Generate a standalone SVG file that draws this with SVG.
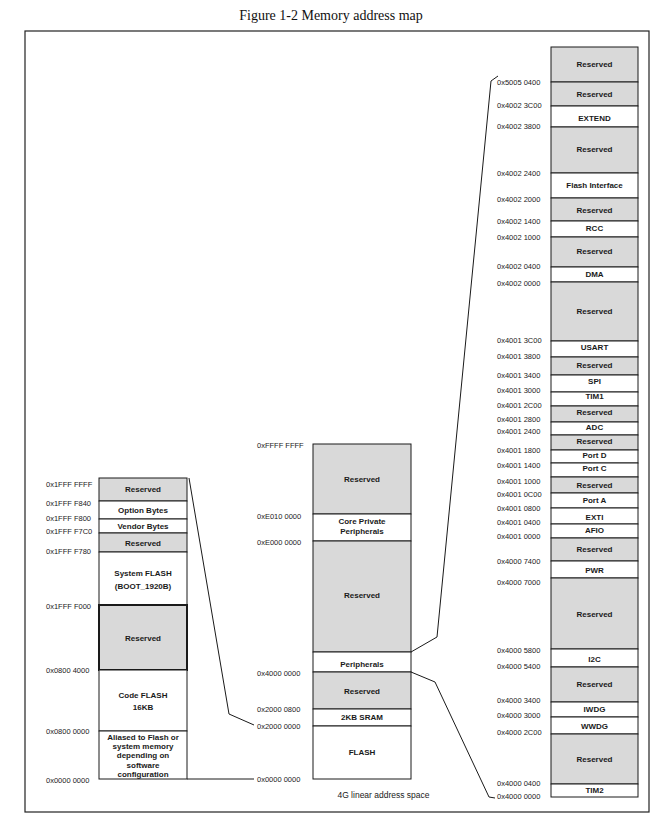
<svg xmlns="http://www.w3.org/2000/svg" width="660" height="836" viewBox="0 0 660 836">
<style>
.bg{fill:#fff}
.frame{fill:none;stroke:#222;stroke-width:1.2}
.g{fill:#d9d9d9;stroke:#1a1a1a;stroke-width:1}
.w{fill:#fff;stroke:#1a1a1a;stroke-width:1}
.thick{stroke-width:2}
.lbl{font-family:"Liberation Sans",Arial,sans-serif;font-size:8px;font-weight:bold;text-anchor:middle;fill:#1a1a1a}
.addr{font-family:"Liberation Sans",Arial,sans-serif;font-size:7.5px;fill:#1a1a1a}
.cap{font-family:"Liberation Sans",Arial,sans-serif;font-size:8.5px;fill:#1a1a1a;text-anchor:middle}
.title{font-family:"Liberation Serif","Times New Roman",serif;font-size:14px;fill:#111;text-anchor:middle}
.conn{fill:none;stroke:#1a1a1a;stroke-width:1}
</style>
<rect class="bg" x="0" y="0" width="660" height="836"/>
<text class="title" x="331" y="20">Figure 1-2 Memory address map</text>
<rect class="frame" x="25" y="31" width="624" height="781"/>

<!-- Left column: system memory detail -->
<g id="left-col">
<g id="l-res1"><rect class="g" x="99" y="478" width="88" height="23"/><text class="lbl" x="143" y="492">Reserved</text></g>
<g id="l-option"><rect class="w" x="99" y="501" width="88" height="18"/><text class="lbl" x="143" y="513">Option Bytes</text></g>
<g id="l-vendor"><rect class="w" x="99" y="519" width="88" height="14"/><text class="lbl" x="143" y="529">Vendor Bytes</text></g>
<g id="l-res2"><rect class="g" x="99" y="533" width="88" height="19"/><text class="lbl" x="143" y="545.5">Reserved</text></g>
<g id="l-sysflash"><rect class="w" x="99" y="552" width="88" height="53"/><text class="lbl" x="143" y="576">System FLASH</text><text class="lbl" x="143" y="589.4">(BOOT_1920B)</text></g>
<g id="l-res3"><rect class="g thick" x="99" y="605" width="88" height="65"/><text class="lbl" x="143" y="640.7">Reserved</text></g>
<g id="l-codeflash"><rect class="w" x="99" y="670" width="88" height="61"/><text class="lbl" x="143" y="697.7">Code FLASH</text><text class="lbl" x="143" y="710">16KB</text></g>
<g id="l-alias"><rect class="w" x="99" y="731" width="88" height="48"/>
<text class="lbl" x="143" y="740">Aliased to Flash or</text>
<text class="lbl" x="143" y="749.4">system memory</text>
<text class="lbl" x="143" y="758.4">depending on</text>
<text class="lbl" x="143" y="767.7">software</text>
<text class="lbl" x="143" y="777">configuration</text></g>
<g id="l-addr">
<text class="addr" x="46" y="486.5">0x1FFF FFFF</text>
<text class="addr" x="46" y="506">0x1FFF F840</text>
<text class="addr" x="46" y="521">0x1FFF F800</text>
<text class="addr" x="46" y="534.4">0x1FFF F7C0</text>
<text class="addr" x="46" y="553.7">0x1FFF F780</text>
<text class="addr" x="46" y="609.4">0x1FFF F000</text>
<text class="addr" x="46" y="673.4">0x0800 4000</text>
<text class="addr" x="46" y="734.4">0x0800 0000</text>
<text class="addr" x="46" y="782.7">0x0000 0000</text>
</g>
</g>

<!-- Middle column: 4G linear address space -->
<g id="mid-col">
<g id="m-res1"><rect class="g" x="313" y="444" width="98" height="70"/><text class="lbl" x="362" y="481.7">Reserved</text></g>
<g id="m-core"><rect class="w" x="313" y="514" width="98" height="27"/><text class="lbl" x="362" y="523.7">Core Private</text><text class="lbl" x="362" y="533.7">Peripherals</text></g>
<g id="m-res2"><rect class="g" x="313" y="541" width="98" height="111"/><text class="lbl" x="362" y="598.4">Reserved</text></g>
<g id="m-periph"><rect class="w" x="313" y="652" width="98" height="20"/><text class="lbl" x="362" y="666.7">Peripherals</text></g>
<g id="m-res3"><rect class="g" x="313" y="672" width="98" height="37"/><text class="lbl" x="362" y="693.7">Reserved</text></g>
<g id="m-sram"><rect class="w" x="313" y="709" width="98" height="17"/><text class="lbl" x="362" y="720.4">2KB SRAM</text></g>
<g id="m-flash"><rect class="w" x="313" y="726" width="98" height="53"/><text class="lbl" x="362" y="755">FLASH</text></g>
<g id="m-addr">
<text class="addr" x="257" y="447.7">0xFFFF FFFF</text>
<text class="addr" x="257" y="518.7">0xE010 0000</text>
<text class="addr" x="257" y="544.7">0xE000 0000</text>
<text class="addr" x="257" y="675.7">0x4000 0000</text>
<text class="addr" x="257" y="711.7">0x2000 0800</text>
<text class="addr" x="257" y="728.7">0x2000 0000</text>
<text class="addr" x="257" y="781.7">0x0000 0000</text>
</g>
<text class="cap" x="383.5" y="798">4G linear address space</text>
</g>

<!-- Right column: peripheral map -->
<g id="right-col">
<g id="r01"><rect class="g" x="551" y="47" width="87" height="35"/><text class="lbl" x="594.5" y="67">Reserved</text></g>
<g id="r02"><rect class="g" x="551" y="82" width="87" height="24"/><text class="lbl" x="594.5" y="96.7">Reserved</text></g>
<g id="r03"><rect class="w" x="551" y="106" width="87" height="21"/><text class="lbl" x="594.5" y="121">EXTEND</text></g>
<g id="r04"><rect class="g" x="551" y="127" width="87" height="46"/><text class="lbl" x="594.5" y="152">Reserved</text></g>
<g id="r05"><rect class="w" x="551" y="173" width="87" height="25"/><text class="lbl" x="594.5" y="187.7">Flash Interface</text></g>
<g id="r06"><rect class="g" x="551" y="198" width="87" height="23"/><text class="lbl" x="594.5" y="212.7">Reserved</text></g>
<g id="r07"><rect class="w" x="551" y="221" width="87" height="16"/><text class="lbl" x="594.5" y="231">RCC</text></g>
<g id="r08"><rect class="g" x="551" y="237" width="87" height="30"/><text class="lbl" x="594.5" y="254.4">Reserved</text></g>
<g id="r09"><rect class="w" x="551" y="267" width="87" height="15"/><text class="lbl" x="594.5" y="277">DMA</text></g>
<g id="r10"><rect class="g" x="551" y="282" width="87" height="59"/><text class="lbl" x="594.5" y="314.4">Reserved</text></g>
<g id="r11"><rect class="w" x="551" y="341" width="87" height="16"/><text class="lbl" x="594.5" y="350.4">USART</text></g>
<g id="r12"><rect class="g" x="551" y="357" width="87" height="18"/><text class="lbl" x="594.5" y="368.4">Reserved</text></g>
<g id="r13"><rect class="w" x="551" y="375" width="87" height="17"/><text class="lbl" x="594.5" y="383.7">SPI</text></g>
<g id="r14"><rect class="w" x="551" y="392" width="87" height="14"/><text class="lbl" x="594.5" y="399.4">TIM1</text></g>
<g id="r15"><rect class="g" x="551" y="406" width="87" height="16"/><text class="lbl" x="594.5" y="415.4">Reserved</text></g>
<g id="r16"><rect class="w" x="551" y="422" width="87" height="13"/><text class="lbl" x="594.5" y="430">ADC</text></g>
<g id="r17"><rect class="g" x="551" y="435" width="87" height="15"/><text class="lbl" x="594.5" y="444.4">Reserved</text></g>
<g id="r18"><rect class="w" x="551" y="450" width="87" height="13"/><text class="lbl" x="594.5" y="458">Port D</text></g>
<g id="r19"><rect class="w" x="551" y="463" width="87" height="14"/><text class="lbl" x="594.5" y="471.4">Port C</text></g>
<g id="r20"><rect class="g" x="551" y="477" width="87" height="16"/><text class="lbl" x="594.5" y="488.4">Reserved</text></g>
<g id="r21"><rect class="w" x="551" y="493" width="87" height="15"/><text class="lbl" x="594.5" y="503.4">Port A</text></g>
<g id="r22"><rect class="w" x="551" y="508" width="87" height="16"/><text class="lbl" x="594.5" y="520">EXTI</text></g>
<g id="r23"><rect class="w" x="551" y="524" width="87" height="14"/><text class="lbl" x="594.5" y="533.4">AFIO</text></g>
<g id="r24"><rect class="g" x="551" y="538" width="87" height="23"/><text class="lbl" x="594.5" y="552">Reserved</text></g>
<g id="r25"><rect class="w" x="551" y="561" width="87" height="17"/><text class="lbl" x="594.5" y="573.4">PWR</text></g>
<g id="r26"><rect class="g" x="551" y="578" width="87" height="71"/><text class="lbl" x="594.5" y="616.7">Reserved</text></g>
<g id="r27"><rect class="w" x="551" y="649" width="87" height="18"/><text class="lbl" x="594.5" y="662">I2C</text></g>
<g id="r28"><rect class="g" x="551" y="667" width="87" height="35"/><text class="lbl" x="594.5" y="686.7">Reserved</text></g>
<g id="r29"><rect class="w" x="551" y="702" width="87" height="15"/><text class="lbl" x="594.5" y="711.7">IWDG</text></g>
<g id="r30"><rect class="w" x="551" y="717" width="87" height="17"/><text class="lbl" x="594.5" y="728.7">WWDG</text></g>
<g id="r31"><rect class="g" x="551" y="734" width="87" height="50"/><text class="lbl" x="594.5" y="761.7">Reserved</text></g>
<g id="r32"><rect class="w" x="551" y="784" width="87" height="13"/><text class="lbl" x="594.5" y="793.4">TIM2</text></g>
<g id="r-addr">
<text class="addr" x="497" y="85">0x5005 0400</text>
<text class="addr" x="497" y="107.7">0x4002 3C00</text>
<text class="addr" x="497" y="128.7">0x4002 3800</text>
<text class="addr" x="497" y="176">0x4002 2400</text>
<text class="addr" x="497" y="201.7">0x4002 2000</text>
<text class="addr" x="497" y="223.7">0x4002 1400</text>
<text class="addr" x="497" y="240">0x4002 1000</text>
<text class="addr" x="497" y="269.4">0x4002 0400</text>
<text class="addr" x="497" y="286">0x4002 0000</text>
<text class="addr" x="497" y="343.4">0x4001 3C00</text>
<text class="addr" x="497" y="358.7">0x4001 3800</text>
<text class="addr" x="497" y="377.7">0x4001 3400</text>
<text class="addr" x="497" y="392.7">0x4001 3000</text>
<text class="addr" x="497" y="408.4">0x4001 2C00</text>
<text class="addr" x="497" y="421.7">0x4001 2800</text>
<text class="addr" x="497" y="434.4">0x4001 2400</text>
<text class="addr" x="497" y="452.7">0x4001 1800</text>
<text class="addr" x="497" y="467.7">0x4001 1400</text>
<text class="addr" x="497" y="483.7">0x4001 1000</text>
<text class="addr" x="497" y="496.7">0x4001 0C00</text>
<text class="addr" x="497" y="511">0x4001 0800</text>
<text class="addr" x="497" y="525.4">0x4001 0400</text>
<text class="addr" x="497" y="539.4">0x4001 0000</text>
<text class="addr" x="497" y="564.4">0x4000 7400</text>
<text class="addr" x="497" y="585">0x4000 7000</text>
<text class="addr" x="497" y="652.7">0x4000 5800</text>
<text class="addr" x="497" y="668.7">0x4000 5400</text>
<text class="addr" x="497" y="702.7">0x4000 3400</text>
<text class="addr" x="497" y="717.7">0x4000 3000</text>
<text class="addr" x="497" y="735.4">0x4000 2C00</text>
<text class="addr" x="497" y="786">0x4000 0400</text>
<text class="addr" x="497" y="799.4">0x4000 0000</text>
</g>
</g>

<g id="connectors">
<polyline class="conn" points="189,478 229,714 254,725"/>
<line class="conn" x1="187" y1="779" x2="254" y2="779"/>
<polyline class="conn" points="411,652 437,637 491,81 498,76"/>
<polyline class="conn" points="411,672 435,682 489,797 495,798"/>
</g>
</svg>
